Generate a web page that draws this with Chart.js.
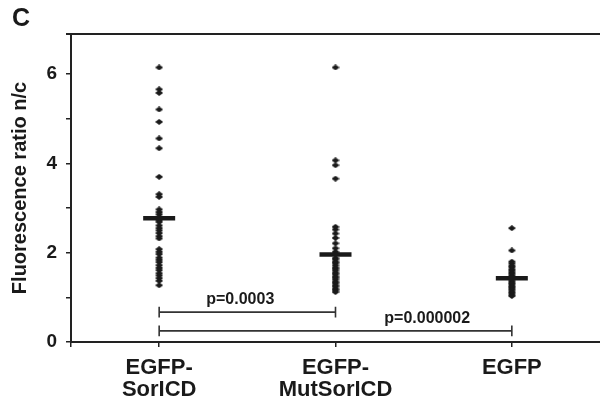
<!DOCTYPE html>
<html>
<head>
<meta charset="utf-8">
<script src="https://cdn.jsdelivr.net/npm/chart.js@4/dist/chart.umd.min.js"></script>
<style>
    body { margin: 0; background: #fff; }
    #wrap { width: 600px; height: 400px; }
</style>
</head>
<body>
<div id="wrap"><canvas id="chart" width="600" height="400"></canvas></div>
<script>
// categories (two-line tick labels)
const categories = [['EGFP-', 'SorICD'], ['EGFP-', 'MutSorICD'], ['EGFP']];

// fluorescence ratio n/c, one value per cell
const sorIcd = [6.15, 5.66, 5.58, 5.21, 4.93, 4.56, 4.34, 3.70, 3.31, 3.25, 2.97, 2.91,
    2.86, 2.80, 2.73, 2.69, 2.61, 2.55, 2.50, 2.44, 2.37, 2.32, 2.08, 2.02, 1.97, 1.89,
    1.84, 1.79, 1.72, 1.66, 1.61, 1.54, 1.49, 1.43, 1.37, 1.27];
const mutSorIcd = [6.15, 4.07, 3.96, 3.66, 2.58, 2.52, 2.43, 2.33, 2.21, 2.10, 2.02, 1.98,
    1.88, 1.85, 1.80, 1.77, 1.72, 1.67, 1.64, 1.60, 1.55, 1.52, 1.47, 1.44, 1.40, 1.35,
    1.32, 1.27, 1.24, 1.19, 1.16, 1.12];
const egfp = [2.55, 2.05, 1.80, 1.76, 1.71, 1.68, 1.63, 1.60, 1.56, 1.53, 1.49, 1.46,
    1.43, 1.40, 1.36, 1.33, 1.30, 1.26, 1.23, 1.20, 1.17, 1.13, 1.10, 1.06, 1.03];
const groups = [sorIcd, mutSorIcd, egfp];

// group means (horizontal bars)
const means = [2.77, 1.96, 1.43];

// y tick labels shown (ticks every 1, labels every 2)
const yLabels = [0, 2, 4, 6];

// significance brackets
const bracketFrom = [1, 1];
const bracketTo = [2, 3];
const bracketY = [0.67, 0.25];
const pLabels = ['p=0.0003', 'p=0.000002'];
const pLabelX = [1.46, 2.52];

const INK = '#1a1a1a';
const FONT = '"Liberation Sans", Arial, sans-serif';

// small flat diamond marker
function makeDiamond() {
    const c = document.createElement('canvas');
    c.width = 8;
    c.height = 6;
    const g = c.getContext('2d');
    g.fillStyle = INK;
    g.beginPath();
    g.moveTo(0, 3);
    g.lineTo(4, 0);
    g.lineTo(8, 3);
    g.lineTo(4, 6);
    g.closePath();
    g.fill();
    return c;
}
const diamond = makeDiamond();

const TICK_HALF = 0.12;
const bracketSets = bracketFrom.map((from, i) => ({
    type: 'line',
    data: [
        { x: from, y: bracketY[i] + TICK_HALF },
        { x: from, y: bracketY[i] - TICK_HALF },
        { x: from, y: bracketY[i] },
        { x: bracketTo[i], y: bracketY[i] },
        { x: bracketTo[i], y: bracketY[i] + TICK_HALF },
        { x: bracketTo[i], y: bracketY[i] - TICK_HALF }
    ],
    borderColor: '#333',
    borderWidth: 1.6,
    pointRadius: 0,
    fill: false,
    tension: 0
}));

const decorations = {
    id: 'decorations',
    afterDraw(chart) {
        const { ctx, chartArea, scales } = chart;
        ctx.save();
        // panel letter
        ctx.fillStyle = INK;
        ctx.font = 'bold 25px ' + FONT;
        ctx.textAlign = 'left';
        ctx.textBaseline = 'alphabetic';
        ctx.fillText('C', 12, 26);
        // top frame line
        ctx.strokeStyle = '#222';
        ctx.lineWidth = 2;
        ctx.beginPath();
        ctx.moveTo(chartArea.left - 5, chartArea.top);
        ctx.lineTo(chartArea.right, chartArea.top);
        ctx.stroke();
        // p-values above brackets
        ctx.font = 'bold 16px ' + FONT;
        ctx.textAlign = 'center';
        ctx.textBaseline = 'middle';
        pLabels.forEach((t, i) => {
            ctx.fillText(t, scales.x.getPixelForValue(pLabelX[i]),
                scales.y.getPixelForValue(bracketY[i]) - 12.5);
        });
        ctx.restore();
    }
};

new Chart(document.getElementById('chart'), {
    type: 'scatter',
    data: {
        datasets: [
            {
                data: means.map((m, i) => ({ x: i + 1, y: m })),
                pointStyle: 'line',
                radius: 16,
                borderWidth: 4.5,
                borderColor: INK
            },
            ...groups.map((vals, i) => ({
                data: vals.map(v => ({ x: i + 1, y: v })),
                pointStyle: diamond,
                backgroundColor: INK,
                borderColor: INK
            })),
            ...bracketSets
        ]
    },
    options: {
        responsive: false,
        animation: false,
        events: [],
        layout: { autoPadding: false, padding: { top: 34, right: 0, left: 0, bottom: 0 } },
        plugins: {
            legend: { display: false },
            tooltip: { enabled: false }
        },
        scales: {
            x: {
                type: 'linear',
                min: 0.5,
                max: 3.5,
                afterBuildTicks: s => { s.ticks = [{ value: 0.5 }, { value: 1 }, { value: 2 }, { value: 3 }]; },
                afterFit: s => { s.height = 58; s.paddingLeft = 0; s.paddingRight = 0; },
                border: { color: '#222', width: 2 },
                grid: { drawOnChartArea: false, tickLength: 5, color: '#222', lineWidth: 1.5 },
                ticks: {
                    padding: 10,
                    color: INK,
                    maxRotation: 0,
                    autoSkip: false,
                    font: { family: FONT, size: 22, weight: 'bold', lineHeight: 1.0 },
                    callback: v => (Number.isInteger(v) ? categories[v - 1] : '')
                }
            },
            y: {
                min: 0,
                max: 6.9,
                afterFit: s => { s.width = 71; },
                border: { color: '#222', width: 2 },
                grid: { drawOnChartArea: false, tickLength: 5, color: '#222', lineWidth: 1.5 },
                ticks: {
                    stepSize: 1,
                    padding: 9,
                    color: INK,
                    font: { family: FONT, size: 19, weight: 'bold' },
                    callback: v => (yLabels.includes(v) ? String(v) : '')
                },
                title: {
                    display: true,
                    text: 'Fluorescence ratio n/c',
                    color: INK,
                    padding: { top: 8, bottom: 0 },
                    font: { family: FONT, size: 20, weight: 'bold' }
                }
            }
        }
    },
    plugins: [decorations]
});
</script>
</body>
</html>
